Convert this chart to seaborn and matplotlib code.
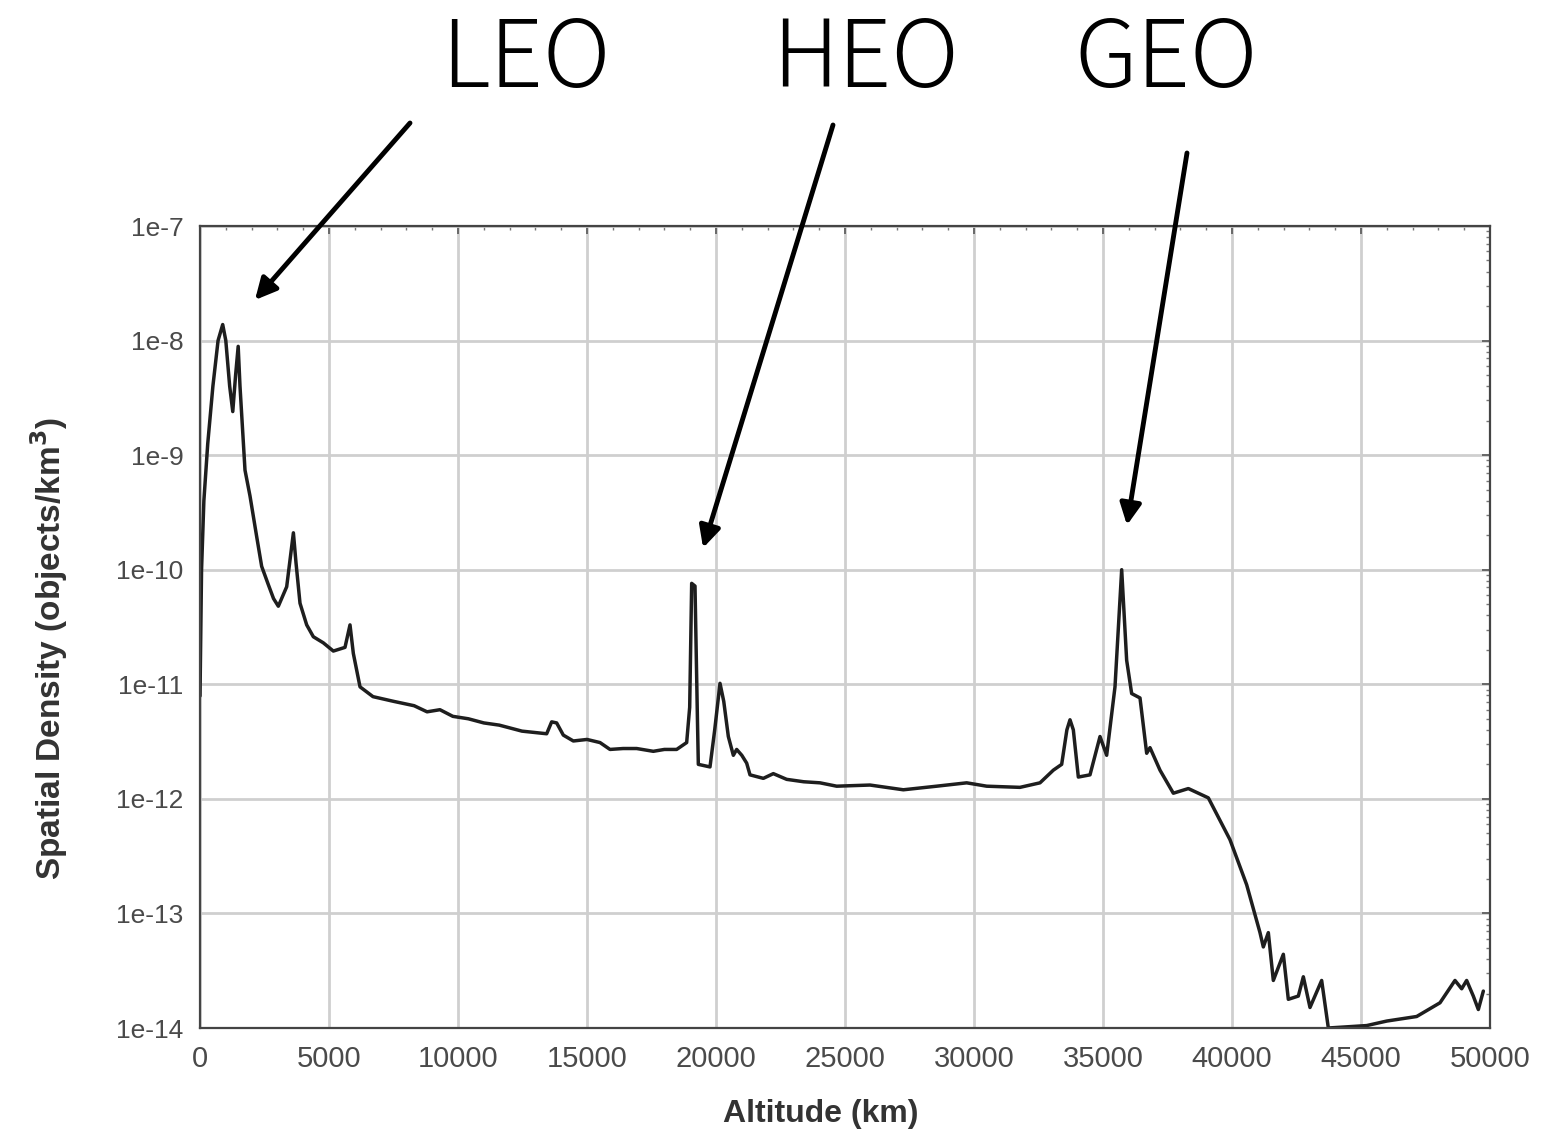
import matplotlib
matplotlib.use("Agg")
import matplotlib.pyplot as plt
import matplotlib.ticker as mticker
import numpy as np
import pandas as pd
import seaborn as sns

# ---------------- data ----------------
altitude_km = [
    0, 60, 150, 300, 500, 700, 880, 1000, 1150, 1270, 1380, 1480, 1550, 1744, 1938,
    2196, 2390, 2649, 2850, 3036, 3360, 3620, 3721, 3876, 4135, 4393, 4780, 5168,
    5620, 5814, 5943, 6202, 6705, 7500, 8300, 8800, 9300, 9800, 10400, 11000, 11600,
    12480, 13437, 13630, 13824, 14082, 14470, 15000, 15504, 15891, 16400, 16925,
    17570, 18000, 18475, 18863, 18980, 19057, 19186, 19280, 19315, 19767, 19950,
    20155, 20300, 20478, 20672, 20801, 21000, 21189, 21318, 21835, 22222, 22739,
    23400, 24031, 24677, 25969, 27261, 28553, 29716, 30491, 31783, 32558, 33075,
    33398, 33600, 33721, 33850, 34044, 34496, 34884, 35142, 35465, 35724, 35917,
    36111, 36434, 36693, 36822, 37209, 37726, 38308, 39083, 39922, 40568, 41085,
    41214, 41408, 41602, 41990, 42183, 42571, 42765, 43023, 43475, 43734, 45220,
    46000, 47158, 48062, 48643, 48902, 49095, 49353, 49548, 49742,
]
density = [
    7.9e-12, 1.0e-10, 4.0e-10, 1.26e-9, 4.0e-9, 1.0e-8, 1.38e-8, 1.0e-8, 4.0e-9, 2.4e-9,
    5.0e-9, 8.9e-9, 4.0e-9, 7.4e-10, 4.4e-10, 1.95e-10, 1.07e-10, 7.4e-11, 5.6e-11,
    4.8e-11, 7.1e-11, 2.1e-10, 1.15e-10, 5.1e-11, 3.3e-11, 2.6e-11, 2.3e-11, 1.95e-11,
    2.1e-11, 3.3e-11, 1.86e-11, 9.5e-12, 7.8e-12, 7.1e-12, 6.5e-12, 5.75e-12, 6.0e-12,
    5.25e-12, 5.0e-12, 4.6e-12, 4.4e-12, 3.9e-12, 3.7e-12, 4.7e-12, 4.6e-12, 3.6e-12,
    3.2e-12, 3.3e-12, 3.1e-12, 2.7e-12, 2.75e-12, 2.75e-12, 2.6e-12, 2.7e-12, 2.7e-12,
    3.1e-12, 6.3e-12, 7.6e-11, 7.2e-11, 5.0e-12, 2.0e-12, 1.9e-12, 4.0e-12, 1.02e-11,
    7.1e-12, 3.5e-12, 2.4e-12, 2.7e-12, 2.4e-12, 2.05e-12, 1.62e-12, 1.51e-12, 1.66e-12,
    1.48e-12, 1.41e-12, 1.38e-12, 1.29e-12, 1.32e-12, 1.2e-12, 1.29e-12, 1.38e-12,
    1.29e-12, 1.26e-12, 1.38e-12, 1.78e-12, 2.0e-12, 4.0e-12, 4.9e-12, 4.0e-12, 1.55e-12,
    1.62e-12, 3.5e-12, 2.4e-12, 9.5e-12, 1.0e-10, 1.62e-11, 8.3e-12, 7.6e-12, 2.5e-12,
    2.8e-12, 1.78e-12, 1.12e-12, 1.23e-12, 1.02e-12, 4.4e-13, 1.78e-13, 6.8e-14, 5.1e-14,
    6.8e-14, 2.6e-14, 4.4e-14, 1.78e-14, 1.9e-14, 2.8e-14, 1.51e-14, 2.6e-14, 1.0e-14,
    1.05e-14, 1.15e-14, 1.26e-14, 1.66e-14, 2.6e-14, 2.2e-14, 2.6e-14, 1.9e-14, 1.45e-14,
    2.1e-14,
]

x_ticks = [0, 5000, 10000, 15000, 20000, 25000, 30000, 35000, 40000, 45000, 50000]
y_ticks = [1e-14, 1e-13, 1e-12, 1e-11, 1e-10, 1e-9, 1e-8, 1e-7]
y_tick_labels = ["1e-14", "1e-13", "1e-12", "1e-11", "1e-10", "1e-9", "1e-8", "1e-7"]

orbit_names = ["LEO", "HEO", "GEO"]
orbit_arrow_alt = [2130, 19500, 35930]
orbit_arrow_density = [2.26e-8, 1.55e-10, 2.45e-10]

# ---------------- figure ----------------
sns.set_style("white")
plt.rcParams["font.family"] = ["Liberation Sans", "DejaVu Sans"]

W, H = 1548, 1133
fig = plt.figure(figsize=(W / 100, H / 100), dpi=100)
ax = fig.add_axes([200 / W, 1 - 1028 / H, (1490 - 200) / W, (1028 - 226) / H])

df = pd.DataFrame({"alt": altitude_km, "dens": density})
sns.lineplot(data=df, x="alt", y="dens", ax=ax, color="#1e1e1e", linewidth=2.5,
             estimator=None, sort=False)

ax.set_yscale("log")
ax.set_xlim(0, 50000)
ax.set_ylim(1e-14, 1e-7)

ax.xaxis.set_major_locator(mticker.FixedLocator(x_ticks))
ax.xaxis.set_minor_locator(mticker.MultipleLocator(1000))
ax.yaxis.set_major_locator(mticker.FixedLocator(y_ticks))
ax.yaxis.set_major_formatter(mticker.FixedFormatter(y_tick_labels))
ax.yaxis.set_minor_locator(mticker.LogLocator(base=10, subs=np.arange(2, 10) * 1.0, numticks=50))
ax.yaxis.set_minor_formatter(mticker.NullFormatter())

ax.grid(True, which="major", color="#cfcfcf", linewidth=2.0)
ax.set_axisbelow(True)

ax.tick_params(axis="both", which="major", direction="in", length=6, width=1.2,
               color="#555555", labelcolor="#4a4a4a", top=True, right=True, pad=12)
ax.tick_params(axis="both", which="minor", direction="in", length=3, width=1.0,
               color="#777777", top=True, right=True)
ax.tick_params(axis="x", labelsize=21)
ax.tick_params(axis="y", labelsize=19)

for s in ax.spines.values():
    s.set_color("#444444")
    s.set_linewidth(1.6)

ax.set_xlabel("Altitude (km)", fontsize=23, fontweight="bold", color="#333333")
ax.set_ylabel("Spatial Density (objects/km$^\\mathbf{3}$)", fontsize=24, fontweight="bold",
              color="#333333")
ax.xaxis.set_label_coords(0.481, -0.088)
ax.yaxis.set_label_coords(-0.101, 0.473)

# orbit labels and arrows
label_centers_px = [526, 866, 1166]
arrow_tails_px = [(410, 123), (833, 125), (1187, 153)]
for name, cx, (tx, ty), a, d in zip(orbit_names, label_centers_px, arrow_tails_px,
                                     orbit_arrow_alt, orbit_arrow_density):
    fig.text(cx / W, 1 - 61 / H, name, ha="center", va="center", fontsize=67,
             color="black", family=["Noto Sans CJK JP", "Noto Sans", "DejaVu Sans"],
             fontweight="light")
    ax.annotate("", xy=(a, d), xycoords="data",
                xytext=(tx / W, 1 - ty / H), textcoords="figure fraction",
                arrowprops=dict(arrowstyle="-|>", color="black", lw=3.5,
                                mutation_scale=32, shrinkA=0, shrinkB=0),
                annotation_clip=False)

fig.savefig("out.png", dpi=100, facecolor="white")
